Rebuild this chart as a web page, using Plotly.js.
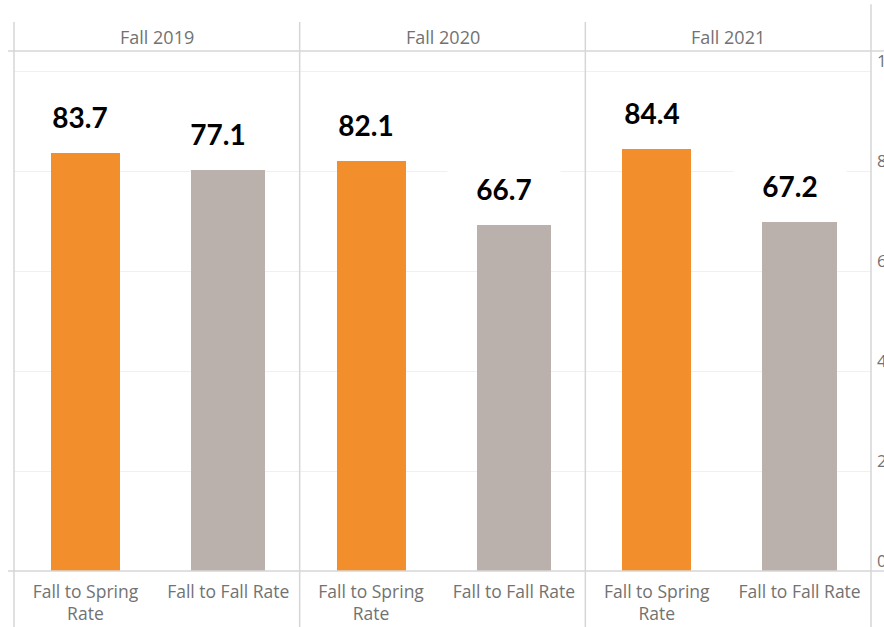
<!DOCTYPE html>
<html>
<head>
<meta charset="utf-8">
<script src="https://cdn.plot.ly/plotly-3.0.1.min.js"></script>
<style>html,body{margin:0;padding:0;background:#fff;}#chart{width:884px;height:627px;}</style>
</head>
<body>
<div id="chart"></div>
<script>
// ---- data ----
const terms = ['Fall 2019', 'Fall 2020', 'Fall 2021'];
const categories = ['Fall to Spring<br>Rate', 'Fall to Fall Rate'];
// bar heights as drawn in the picture
const springBars = [83.7, 82.1, 84.4];
const fallBars = [80.3, 69.3, 69.9];
// value labels as printed above the bars
const springLabels = ['83.7', '82.1', '84.4'];
const fallLabels = ['77.1', '66.7', '67.2'];
const yTicks = [0, 20, 40, 60, 80, 100];

// ---- styles ----
const ORANGE = '#F28E2B';
const GREY = '#BAB0AC';
const LINE = '#d6d6d6';
const TXT = '#727272';
const UI_FONT = 'Open Sans, sans-serif';
const LABEL_FONT = 'Lato, Liberation Sans, sans-serif';

const axisIds = ['', '2', '3'];
const traces = terms.map((t, i) => ({
  type: 'bar',
  x: categories,
  y: [springBars[i], fallBars[i]],
  xaxis: 'x' + axisIds[i],
  yaxis: 'y',
  width: [0.483, 0.52],
  marker: {color: [ORANGE, GREY], line: {width: 0}},
  hoverinfo: 'skip',
  showlegend: false
}));

const layout = {
  width: 884, height: 627,
  margin: {l: 14, r: 13, t: 51, b: 56, pad: 0},
  paper_bgcolor: '#fff', plot_bgcolor: '#fff',
  font: {family: UI_FONT, size: 17.5, color: TXT},
  bargap: 0,
  showlegend: false,
  yaxis: {
    range: [0, 104],
    tickvals: yTicks,
    side: 'right',
    anchor: 'x3',
    showgrid: true, gridcolor: '#f0f0f0', gridwidth: 1,
    zeroline: false, showline: false, ticks: '',
    ticklabelstandoff: 5, ticklabelshift: -10,
    tickfont: {family: UI_FONT, size: 17, color: TXT},
    fixedrange: true
  },
  annotations: [],
  shapes: []
};

const third = 1 / 3;
axisIds.forEach((id, i) => {
  layout['xaxis' + id] = {
    domain: [i * third, (i + 1) * third],
    anchor: 'y',
    type: 'category',
    range: [-0.5, 1.5],
    showgrid: false, zeroline: false, showline: false, ticks: '',
    tickfont: {family: UI_FONT, size: 17.5, color: TXT},
    ticklabelstandoff: 8,
    fixedrange: true
  };
  // column header
  layout.annotations.push({
    xref: 'paper', yref: 'paper',
    x: (i + 0.5) * third, y: 1.027,
    xanchor: 'center', yanchor: 'middle',
    text: terms[i], showarrow: false,
    font: {family: UI_FONT, size: 18, color: TXT}
  });
  // value labels
  const xr = 'x' + axisIds[i];
  [[springBars[i], springLabels[i], -5], [fallBars[i], fallLabels[i], -10]].forEach((v, k) => {
    layout.annotations.push({
      xref: xr, yref: 'y',
      x: categories[k], y: v[0],
      xanchor: 'center', yanchor: 'bottom',
      xshift: v[2], yshift: 12,
      width: 110, height: 44,
      bgcolor: '#ffffff',
      text: '<b>' + v[1] + '</b>', showarrow: false,
      font: {family: LABEL_FONT, size: 28, color: '#000'}
    });
  });
});

// panel frame lines
const shp = (x0, y0, x1, y1) => ({type: 'line', xref: 'paper', yref: 'paper',
  x0: x0, y0: y0, x1: x1, y1: y1, line: {color: LINE, width: 1.5}, layer: 'above'});
layout.shapes.push(shp(-0.007, 1, 1.016, 1));
layout.shapes.push(shp(-0.007, 0, 1.016, 0));
[0, third, 2 * third].forEach(x => layout.shapes.push(shp(x, -0.108, x, 1.056)));
layout.shapes.push(shp(1, -0.108, 1, 1.09));

Plotly.newPlot('chart', traces, layout, {staticPlot: true, displayModeBar: false});
</script>
</body>
</html>
